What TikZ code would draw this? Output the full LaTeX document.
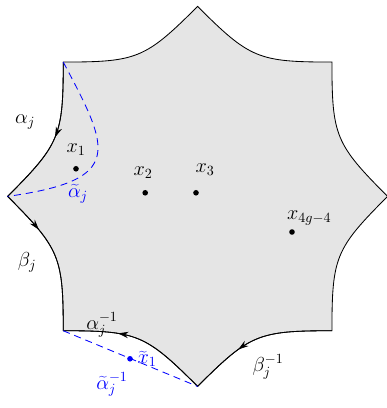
\documentclass[tikz,border=0pt]{standalone}
\usepackage{tikz}
\usetikzlibrary{arrows.meta,decorations.markings}
\tikzset{
  side/.style={line width=0.6pt},
  lift/.style={blue, dash pattern=on 5pt off 3.5pt, line width=0.6pt},
  pt/.style={circle, fill=black, inner sep=0pt, minimum size=1.4mm},
  tpt/.style={pt, fill=blue},
  lbl/.style={font=\Large, inner sep=1pt},
  tlbl/.style={lbl, text=blue},
  fwd/.style={postaction={decorate, decoration={markings,
      mark=at position #1 with {\arrow{Stealth[length=2.6mm,width=1.6mm]}}}}},
  bwd/.style={postaction={decorate, decoration={markings,
      mark=at position #1 with {\arrowreversed{Stealth[length=2.6mm,width=1.6mm]}}}}}
}

\begin{document}
\begin{tikzpicture}
    \useasboundingbox (-4.94,-5.29) rectangle (4.71,4.91);
    % corners of the octagon, top first, counterclockwise
    \foreach \k in {0,...,7}
      \coordinate (v\k) at (90+45*\k:4.75);
    \draw[side, fill=gray!20] (v0) \foreach \k in {0,...,7} {
        to[out=225+45*\k, in=45*\k, looseness=1.3] (135+45*\k:4.75) } -- cycle;
    % sides carrying the generators
    \draw[side, fwd=0.5] (v1) to[out=270, in=45, looseness=1.3] (v2);
    \draw[side, fwd=0.3] (v2) to[out=315, in=90, looseness=1.3] (v3);
    \draw[side, bwd=0.36] (v3) to[out=0, in=135, looseness=1.3] (v4);
    \draw[side, bwd=0.36] (v4) to[out=45, in=180, looseness=1.3] (v5);
    % lifted paths
    \draw[lift] (v1) .. controls (-2.19,1.16) and (-1.81,0.41) .. (v2);
    \draw[lift] (v3) -- (v4);
    % marked points
    \node[pt] (x1) at (-3.04,0.69) {};
    \node[pt] (x2) at (-1.31,0.09) {};
    \node[pt] (x3) at (-0.04,0.09) {};
    \node[pt] (xn) at (2.36,-0.89) {};
    \node[tpt] (tx1) at (-1.69,-4.06) {};
    \node[lbl] (x1l) at (-3.04,1.16) {$x_1$};
    \node[lbl] (x2l) at (-1.36,0.59) {$x_2$};
    \node[lbl] (x3l) at (0.19,0.66) {$x_3$};
    \node[lbl] (xnl) at (2.79,-0.54) {$x_{4g-4}$};
    \node[tlbl] (tx1l) at (-1.26,-4.06) {$\widetilde{x}_1$};
    % edge labels
    \node[lbl] (a) at (-4.31,1.86) {$\alpha_j$};
    \node[lbl] (b) at (-4.26,-1.64) {$\beta_j$};
    \node[lbl] (ai) at (-2.39,-3.21) {$\alpha_j^{-1}$};
    \node[lbl] (bi) at (1.76,-4.26) {$\beta_j^{-1}$};
    \node[tlbl] (ta) at (-2.99,0.07) {$\widetilde{\alpha}_j$};
    \node[tlbl] (tai) at (-2.14,-4.7) {$\widetilde{\alpha}_j^{-1}$};
\end{tikzpicture}
\end{document}
